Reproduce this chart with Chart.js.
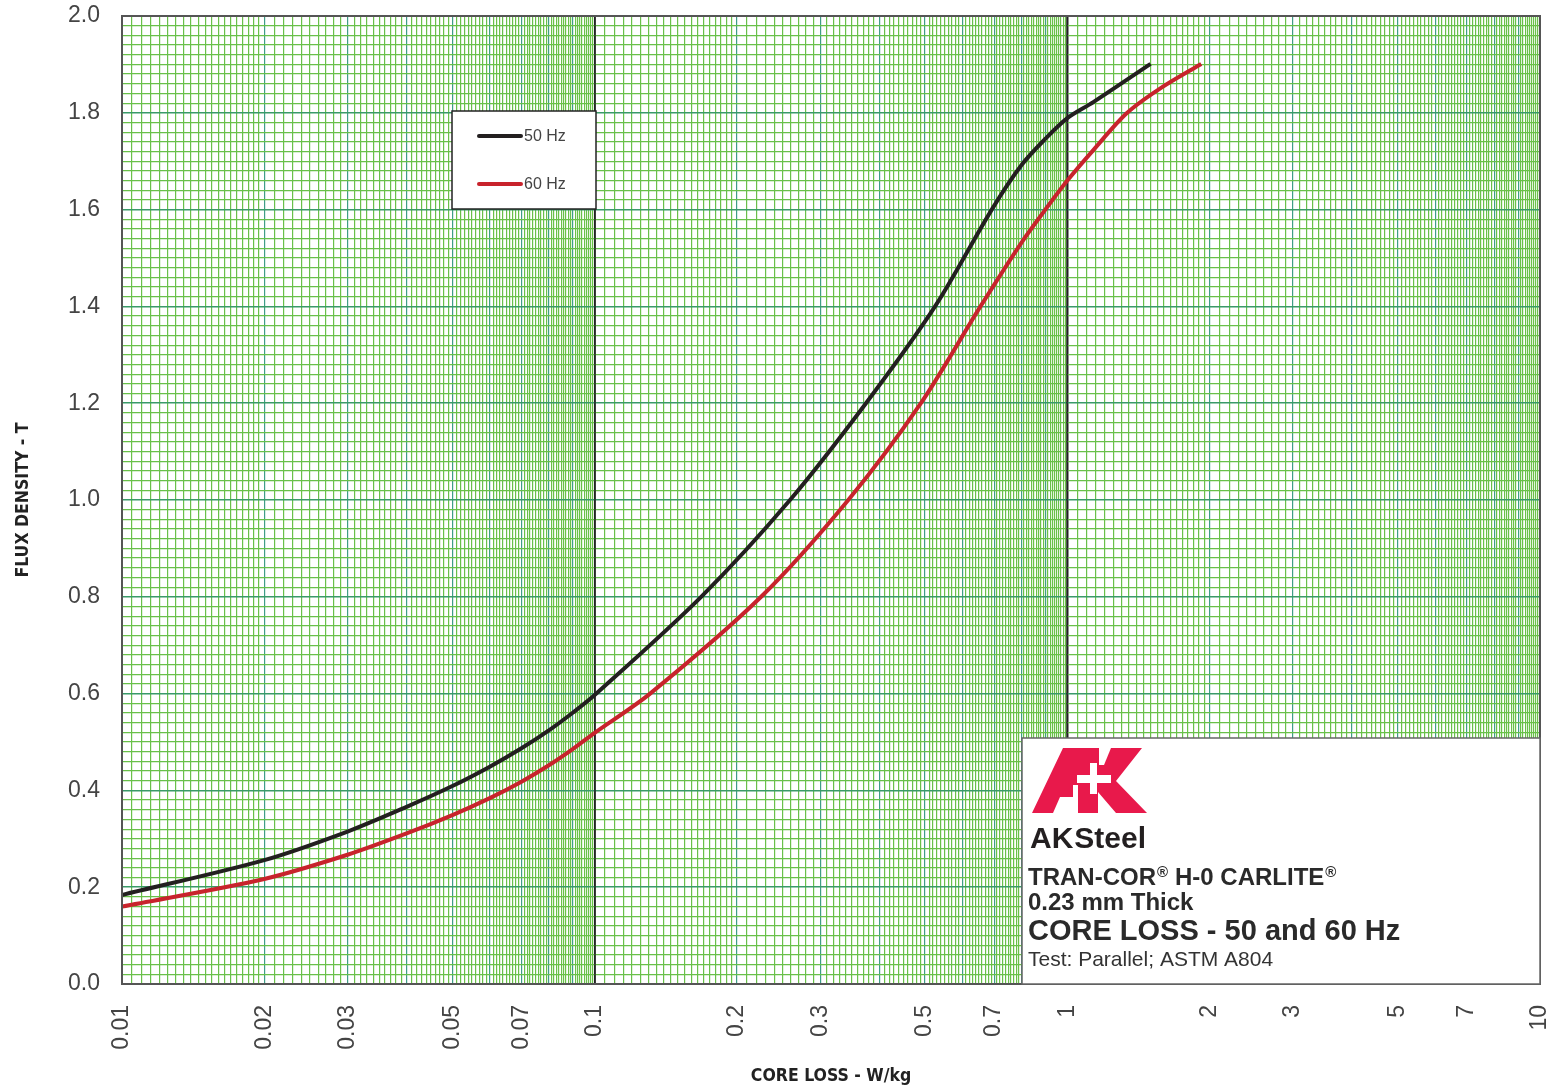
<!DOCTYPE html>
<html>
<head>
<meta charset="utf-8">
<script src="https://cdn.jsdelivr.net/npm/chart.js@4.4.0/dist/chart.umd.min.js"></script>
<style>
  html, body { margin: 0; padding: 0; background: #fff; }
</style>
</head>
<body>
<canvas id="graph" width="1555" height="1091"></canvas>
<script>
Chart.defaults.font.family = "'Liberation Sans', Arial, sans-serif";
Chart.defaults.color = '#444';

// core loss (W/kg) vs flux density (T)
const loss50 = [0.01, 0.02, 0.03, 0.04, 0.05, 0.06, 0.07, 0.08, 0.09, 0.1, 0.168, 0.259, 0.375, 0.525, 0.692, 0.8, 0.9, 1.0, 1.135, 1.5];
const flux50 = [0.184, 0.256, 0.315, 0.366, 0.409, 0.449, 0.487, 0.524, 0.561, 0.597, 0.8, 1.0, 1.2, 1.4, 1.6, 1.692, 1.747, 1.789, 1.822, 1.901];
const loss60 = [0.01, 0.02, 0.03, 0.04, 0.05, 0.06, 0.07, 0.08, 0.09, 0.1, 0.131, 0.225, 0.344, 0.49, 0.655, 0.8, 0.9, 1.0, 1.135, 1.335, 1.57, 1.92];
const flux60 = [0.160, 0.217, 0.267, 0.311, 0.349, 0.384, 0.418, 0.452, 0.486, 0.519, 0.6, 0.8, 1.0, 1.2, 1.4, 1.532, 1.601, 1.66, 1.723, 1.799, 1.850, 1.901];
const seriesNames = ['50 Hz', '60 Hz'];

const xLabels = [0.01, 0.02, 0.03, 0.05, 0.07, 0.1, 0.2, 0.3, 0.5, 0.7, 1, 2, 3, 5, 7, 10];
const yLabels = [0.0, 0.2, 0.4, 0.6, 0.8, 1.0, 1.2, 1.4, 1.6, 1.8, 2.0];
const decades = [0.01, 0.1, 1];

const noteLines = ['TRAN-COR', 'H-0 CARLITE', '0.23 mm Thick', 'CORE LOSS - 50 and 60 Hz', 'Test: Parallel; ASTM A804'];

// log graph-paper rulings: fine steps in 1-2 of each decade, coarser above
const xGrid = [];
decades.forEach(d => {
  for (let m = 100; m < 200; m += 5) xGrid.push(+(m * d / 100).toPrecision(6));
  for (let m = 200; m < 1000; m += 10) xGrid.push(+(m * d / 100).toPrecision(6));
});
xGrid.push(10);
const yGrid = [];
for (let i = 0; i <= 100; i++) yGrid.push(+(i * 0.02).toFixed(2));

const near = (a, b) => Math.abs(a - b) <= Math.abs(b) * 1e-6 + 1e-9;
const mant = v => Math.round(v / Math.pow(10, Math.floor(Math.log10(v) + 1e-9)) * 100);

const narrow = "'Liberation Sans Narrow', 'Arial Narrow', 'DejaVu Sans Condensed', sans-serif";
const minorGreen = '#69c049';

const notes = {
  id: 'notes',
  beforeDatasetsDraw(chart) {
    // decade rulings sit on top of the horizontal rulings
    const { ctx, chartArea: a, scales } = chart;
    ctx.save();
    ctx.strokeStyle = '#222';
    ctx.lineWidth = 1.5;
    decades.slice(1).forEach(d => {
      const px = Math.round(scales.x.getPixelForValue(d));
      ctx.beginPath(); ctx.moveTo(px, a.top); ctx.lineTo(px, a.bottom); ctx.stroke();
    });
    ctx.restore();
  },
  afterDatasetsDraw(chart) {
    const { ctx, chartArea: a } = chart;
    ctx.save();
    // frame
    ctx.strokeStyle = '#555';
    ctx.lineWidth = 2;
    ctx.strokeRect(a.left, a.top, a.right - a.left, a.bottom - a.top);

    // legend box
    ctx.fillStyle = '#fff';
    ctx.fillRect(452, 111, 144, 98);
    ctx.strokeStyle = '#222';
    ctx.lineWidth = 1.5;
    ctx.strokeRect(452, 111, 144, 98);
    chart.data.datasets.forEach((ds, i) => {
      const y = 136 + i * 48;
      ctx.strokeStyle = ds.borderColor;
      ctx.lineWidth = 4;
      ctx.lineCap = 'round';
      ctx.beginPath(); ctx.moveTo(479, y); ctx.lineTo(521, y); ctx.stroke();
      ctx.fillStyle = '#444';
      ctx.font = "16px 'Liberation Sans', Arial";
      ctx.textBaseline = 'middle';
      ctx.fillText(ds.label, 524, y + 1);
    });

    // info block
    ctx.fillStyle = '#fff';
    ctx.fillRect(1022, 738, a.right - 1022, a.bottom - 738);
    ctx.strokeStyle = '#666';
    ctx.lineWidth = 1.5;
    ctx.strokeRect(1022, 738, a.right - 1022, a.bottom - 738);

    // logo
    ctx.fillStyle = '#e8194b';
    ctx.beginPath();
    ctx.moveTo(1032, 813); ctx.lineTo(1063, 748); ctx.lineTo(1142, 748);
    ctx.lineTo(1116, 781); ctx.lineTo(1147, 813); ctx.lineTo(1116, 813);
    ctx.lineTo(1098, 792); ctx.lineTo(1098, 813); ctx.lineTo(1078, 813);
    ctx.lineTo(1078, 797); ctx.lineTo(1060, 797); ctx.lineTo(1053, 813);
    ctx.closePath(); ctx.fill();
    ctx.fillStyle = '#fff';
    ctx.fillRect(1077, 775, 34, 8);
    ctx.fillRect(1090, 763, 7, 31);
    ctx.fillRect(1073, 785, 5, 28);
    ctx.beginPath();
    ctx.moveTo(1099, 748); ctx.lineTo(1111, 748); ctx.lineTo(1104, 765); ctx.lineTo(1099, 765);
    ctx.closePath(); ctx.fill();

    ctx.textBaseline = 'alphabetic';
    ctx.fillStyle = '#231f20';
    ctx.font = "bold 30px 'Liberation Sans', Arial";
    ctx.fillText('AK', 1030, 848);
    ctx.fillText('Steel', 1030 + ctx.measureText('AK').width + 1, 848);

    ctx.fillStyle = '#2a2a2a';
    ctx.font = "bold 24px 'Liberation Sans', Arial";
    let x = 1028;
    ctx.fillText(noteLines[0], x, 885);
    x += ctx.measureText(noteLines[0]).width;
    ctx.font = "bold 15px 'Liberation Sans', Arial";
    ctx.fillText('\u00AE', x + 1, 877);
    x += ctx.measureText('\u00AE').width + 8;
    ctx.font = "bold 24px 'Liberation Sans', Arial";
    ctx.fillText(noteLines[1], x, 885);
    x += ctx.measureText(noteLines[1]).width;
    ctx.font = "bold 15px 'Liberation Sans', Arial";
    ctx.fillText('\u00AE', x + 1, 877);

    ctx.font = "bold 24px 'Liberation Sans', Arial";
    ctx.fillText(noteLines[2], 1028, 910);
    ctx.font = "bold 29px 'Liberation Sans', Arial";
    ctx.fillText(noteLines[3], 1028, 940);
    ctx.fillStyle = '#333';
    ctx.font = "21px 'Liberation Sans', Arial";
    ctx.fillText(noteLines[4], 1028, 966);
    ctx.restore();
  }
};

new Chart(document.getElementById('graph'), {
  type: 'line',
  data: {
    datasets: [
      {
        label: seriesNames[0],
        data: loss50.map((x, i) => ({ x: x, y: flux50[i] })),
        borderColor: '#231f20',
        borderWidth: 4,
        pointRadius: 0,
        tension: 0.3,
        fill: false
      },
      {
        label: seriesNames[1],
        data: loss60.map((x, i) => ({ x: x, y: flux60[i] })),
        borderColor: '#c8232c',
        borderWidth: 4,
        pointRadius: 0,
        tension: 0.3,
        fill: false
      }
    ]
  },
  options: {
    responsive: false,
    animation: false,
    devicePixelRatio: 1,
    layout: { padding: { top: 16, right: 15, left: 0, bottom: 0 } },
    plugins: { legend: { display: false }, tooltip: { enabled: false } },
    scales: {
      x: {
        type: 'logarithmic',
        min: 0.01,
        max: 10,
        afterBuildTicks: s => { s.ticks = xGrid.map(v => ({ value: v })); },
        afterFit: s => { s.height = 107; s.paddingLeft = 0; s.paddingRight = 0; },
        ticks: {
          autoSkip: false,
          minRotation: 90,
          maxRotation: 90,
          padding: 21,
          color: '#444',
          font: { size: 23 },
          callback: v => {
            const l = xLabels.find(t => near(v, t));
            return l === undefined ? '' : String(l);
          }
        },
        grid: {
          drawTicks: false,
          color: c => {
            const v = c.tick.value;
            if (decades.some(d => near(v, d))) return '#222';
            return mant(v) % 100 === 0 ? '#3f9e86' : minorGreen;
          },
          lineWidth: c => {
            const v = c.tick.value;
            if (decades.some(d => near(v, d))) return 1.5;
            return 1.2;
          }
        },
        border: { display: false },
        title: {
          display: true,
          text: 'CORE LOSS - W/kg',
          color: '#222',
          font: { family: narrow, weight: 'bold', size: 17.5 },
          padding: { top: 0, bottom: 4 }
        }
      },
      y: {
        type: 'linear',
        min: 0,
        max: 2,
        afterBuildTicks: s => { s.ticks = yGrid.map(v => ({ value: v })); },
        afterFit: s => { s.width = 122; s.paddingTop = 0; s.paddingBottom = 0; },
        ticks: {
          autoSkip: false,
          padding: 22,
          color: '#444',
          font: { size: 23 },
          callback: v => {
            const l = yLabels.find(t => near(v, t));
            return l === undefined ? '' : l.toFixed(1);
          }
        },
        grid: {
          drawTicks: false,
          color: c => yLabels.some(t => near(c.tick.value, t)) ? '#3a9a68' : minorGreen,
          lineWidth: c => yLabels.some(t => near(c.tick.value, t)) ? 1.6 : 1.2
        },
        border: { display: false },
        title: {
          display: true,
          text: 'FLUX DENSITY - T',
          color: '#222',
          font: { family: narrow, weight: 'bold', size: 17.5 },
          padding: { top: 13, bottom: 0 }
        }
      }
    }
  },
  plugins: [notes]
});
</script>
</body>
</html>
